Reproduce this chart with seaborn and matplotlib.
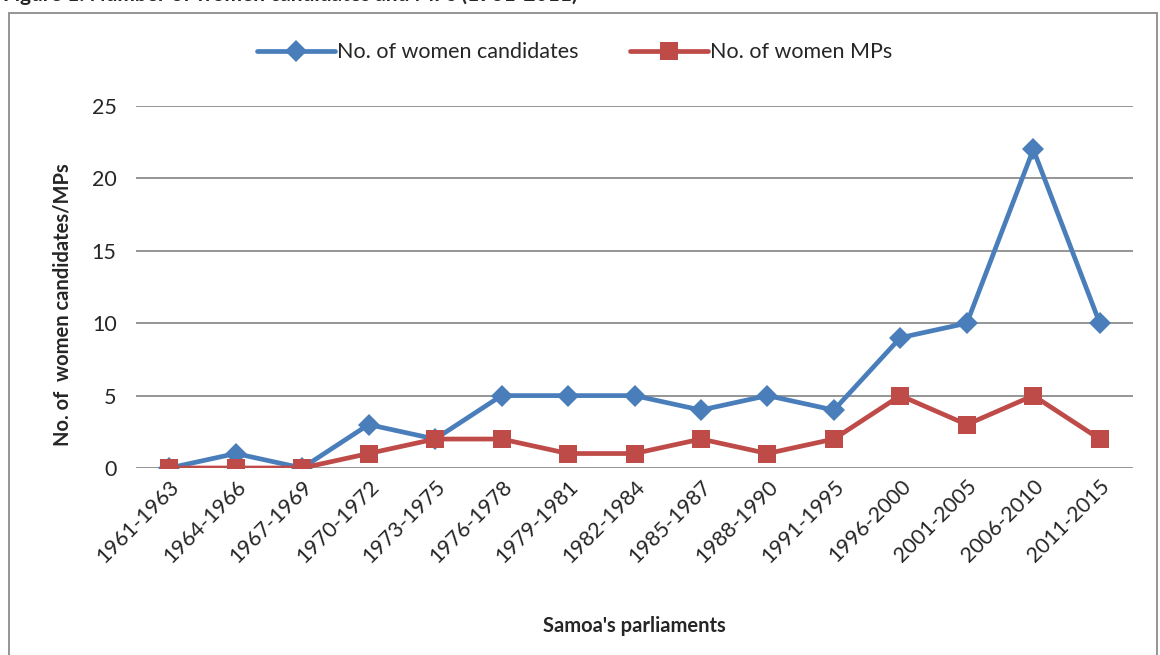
import matplotlib.pyplot as plt
import matplotlib.patches as mpatches
import pandas as pd
import seaborn as sns

parliaments = ['1961-1963', '1964-1966', '1967-1969', '1970-1972', '1973-1975',
               '1976-1978', '1979-1981', '1982-1984', '1985-1987', '1988-1990',
               '1991-1995', '1996-2000', '2001-2005', '2006-2010', '2011-2015']
candidates = [0, 1, 0, 3, 2, 5, 5, 5, 4, 5, 4, 9, 10, 22, 10]
mps = [0, 0, 0, 1, 2, 2, 1, 1, 2, 1, 2, 5, 3, 5, 2]

series_names = ['No. of women candidates', 'No. of women MPs']

df = pd.DataFrame({'parliament': parliaments * 2,
                   'pos': list(range(len(parliaments))) * 2,
                   'value': candidates + mps,
                   'series': [series_names[0]] * len(parliaments) + [series_names[1]] * len(mps)})

sns.set_style('white')
plt.rcParams['font.family'] = ['Lato', 'DejaVu Sans']

fig = plt.figure(figsize=(11.6, 6.55), dpi=100)
ax = fig.add_axes([136 / 1160, 1 - 468 / 655, 997 / 1160, 362 / 655])

palette = {series_names[0]: '#4A7EBB', series_names[1]: '#BE4B48'}
markers = {series_names[0]: 'D', series_names[1]: 's'}
sns.lineplot(data=df, x='pos', y='value', hue='series', style='series',
             palette=palette, markers=markers, dashes=False, linewidth=3.4,
             markersize=13, markeredgewidth=0, ax=ax, zorder=3)
for line in ax.lines:
    if line.get_marker() == 'D':
        line.set_markersize(11)

ax.set_xlim(-0.5, len(parliaments) - 0.5)
ax.set_ylim(0, 25)
ax.set_yticks([0, 5, 10, 15, 20, 25])
ax.set_xticks(range(len(parliaments)))
ax.set_xticklabels(parliaments, rotation=45, ha='right', rotation_mode='anchor', fontsize=15.5)
ax.tick_params(axis='y', labelsize=15.5, length=0, pad=14)
ax.tick_params(axis='x', length=0, pad=6)
ax.grid(axis='y', color='#8c8c8c', linewidth=1.3)
ax.set_axisbelow(True)
for s in ax.spines.values():
    s.set_visible(False)

ax.set_xlabel("Samoa's parliaments", fontsize=14.5, fontweight='bold')
ax.set_ylabel('No. of  women candidates/MPs', fontsize=14.5, fontweight='bold')
ax.xaxis.set_label_coords(0.5, -0.41)
ax.yaxis.set_label_coords(-0.064, 0.45)

handles, labels = ax.get_legend_handles_labels()
ax.legend(handles, labels, loc='center', bbox_to_anchor=(0.44, 1.149), ncol=2,
          frameon=False, fontsize=15.5, handlelength=3.6, columnspacing=2.4,
          handletextpad=0.1)

fig.patches.append(mpatches.Rectangle((9 / 1160, -0.05), 1148 / 1160, 1.05 - 13 / 655,
                                      transform=fig.transFigure, fill=False,
                                      edgecolor='#8c8c8c', linewidth=1.3))
fig.text(0.003, 1 - 1 / 655, 'Figure 1: Number of women candidates and MPs (1961-2011)',
         fontsize=15, fontweight='bold', va='baseline', ha='left')

plt.savefig('out.png', dpi=100)
plt.close()
